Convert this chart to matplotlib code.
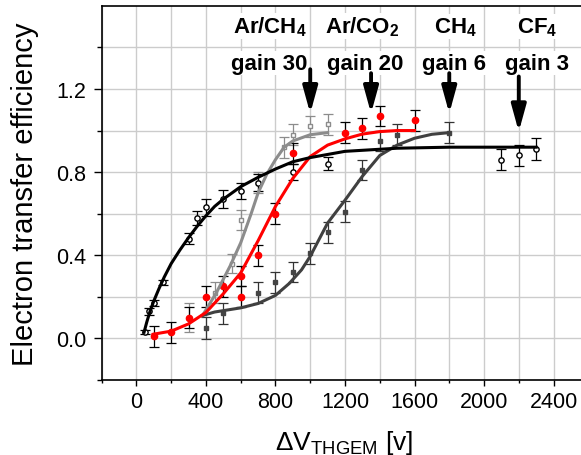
import matplotlib
matplotlib.use('Agg')
import matplotlib.pyplot as plt

plt.rcParams['font.family'] = ['Liberation Sans', 'DejaVu Sans']
plt.rcParams['mathtext.default'] = 'regular'

# CF4 (black, open circles)
cf4_x = [50, 75, 100, 150, 300, 350, 400, 500, 600, 700, 900, 1100, 2100, 2200, 2300]
cf4_y = [0.03, 0.13, 0.17, 0.27, 0.48, 0.58, 0.63, 0.67, 0.71, 0.75, 0.80, 0.84, 0.86, 0.88, 0.91]
cf4_err = [0.01, 0.016, 0.015, 0.012, 0.026, 0.035, 0.04, 0.042, 0.04, 0.04, 0.04, 0.032, 0.05, 0.05, 0.054]
cf4_fit_x = [44, 60, 80, 100, 130, 160, 200, 250, 300, 350, 400, 450, 500, 600, 700, 800, 900,
             1000, 1200, 1500, 1800, 2000, 2300]
cf4_fit_y = [0.03, 0.08, 0.135, 0.18, 0.24, 0.295, 0.36, 0.425, 0.485, 0.54, 0.59, 0.635, 0.67,
             0.73, 0.775, 0.815, 0.85, 0.87, 0.90, 0.915, 0.92, 0.92, 0.92]

# Ar/CH4 (light gray, open squares)
arch4_x = [300, 450, 550, 600, 700, 850, 900, 1000, 1100]
arch4_y = [0.10, 0.22, 0.36, 0.57, 0.75, 0.92, 0.98, 1.02, 1.03]
arch4_err = [0.07, 0.05, 0.045, 0.05, 0.05, 0.05, 0.05, 0.05, 0.05]
arch4_fit_x = [380, 460, 540, 600, 660, 700, 750, 800, 850, 900, 1000, 1100]
arch4_fit_y = [0.11, 0.22, 0.35, 0.46, 0.60, 0.70, 0.79, 0.86, 0.92, 0.95, 0.98, 0.99]

# Ar/CO2 (red, filled circles)
arco2_x = [100, 200, 300, 400, 500, 600, 600, 700, 800, 900, 1200, 1300, 1400, 1600]
arco2_y = [0.01, 0.03, 0.10, 0.20, 0.25, 0.30, 0.20, 0.40, 0.60, 0.89, 0.99, 1.01, 1.07, 1.05]
arco2_err = [0.05, 0.05, 0.05, 0.05, 0.05, 0.05, 0.05, 0.05, 0.05, 0.05, 0.05, 0.05, 0.05, 0.05]
arco2_fit_x = [96, 200, 300, 400, 500, 600, 700, 800, 900, 1000, 1100, 1200, 1300, 1400, 1500, 1600]
arco2_fit_y = [0.02, 0.035, 0.07, 0.125, 0.215, 0.315, 0.47, 0.635, 0.77, 0.875, 0.93, 0.96, 0.983, 0.995, 1.0, 1.0]

# CH4 (dark gray, filled squares)
ch4_x = [400, 500, 700, 800, 900, 1000, 1100, 1200, 1300, 1400, 1500, 1800]
ch4_y = [0.05, 0.12, 0.22, 0.27, 0.32, 0.41, 0.51, 0.61, 0.81, 0.95, 0.98, 0.99]
ch4_err = [0.053, 0.05, 0.05, 0.05, 0.05, 0.05, 0.05, 0.05, 0.05, 0.05, 0.05, 0.05]
ch4_fit_x = [380, 450, 600, 700, 800, 880, 950, 1000, 1100, 1200, 1300, 1400, 1500, 1600, 1700, 1800]
ch4_fit_y = [0.11, 0.127, 0.147, 0.168, 0.207, 0.265, 0.33, 0.395, 0.555, 0.665, 0.78, 0.88, 0.93, 0.963, 0.982, 0.99]

# annotations
gas_labels = ['Ar/CH$_4$', 'Ar/CO$_2$', 'CH$_4$', 'CF$_4$']
gas_label_x = [770, 1298, 1833, 2305]
gain_labels = ['gain 30', 'gain 20', 'gain 6', 'gain 3']
gain_label_x = [762, 1318, 1828, 2305]
arrow_x = [1000, 1350, 1800, 2200]
arrow_top = [1.295, 1.276, 1.276, 1.26]
arrow_tip = [1.082, 1.082, 1.082, 0.994]

fig = plt.figure(figsize=(5.81, 4.56), dpi=100)
ax = fig.add_axes([0.175, 0.1645, 0.825, 0.8205])

ebkw = dict(linestyle='none', elinewidth=0.9, capsize=3.5, capthick=0.9)
ax.errorbar(arch4_x, arch4_y, yerr=arch4_err, marker='s', ms=3.5, mfc='white',
            mec='#8c8c8c', color='#8c8c8c', ecolor='#8c8c8c', zorder=3, **ebkw)
ax.errorbar(ch4_x, ch4_y, yerr=ch4_err, marker='s', ms=3.5, mfc='#444444',
            mec='#444444', color='#444444', ecolor='#333333', zorder=3, **ebkw)
ax.errorbar(arco2_x, arco2_y, yerr=arco2_err, marker='o', ms=4.5, mfc='red',
            mec='red', color='red', ecolor='black', zorder=3, **ebkw)
ax.errorbar(cf4_x, cf4_y, yerr=cf4_err, marker='o', ms=3.8, mfc='white',
            mec='black', color='black', ecolor='black', zorder=3, **ebkw)

ax.plot(arch4_fit_x, arch4_fit_y, color='#8c8c8c', lw=2.2, zorder=4)
ax.plot(ch4_fit_x, ch4_fit_y, color='#404040', lw=2.2, zorder=4)
ax.plot(arco2_fit_x, arco2_fit_y, color='red', lw=2.2, zorder=4)
ax.plot(cf4_fit_x, cf4_fit_y, color='black', lw=2.2, zorder=4)

for lab, x in zip(gas_labels, gas_label_x):
    ax.text(x, 1.472, lab, ha='center', va='baseline', fontsize=16, fontweight='bold',
            bbox=dict(facecolor='white', edgecolor='none', pad=1), zorder=5)
for lab, x in zip(gain_labels, gain_label_x):
    ax.text(x, 1.298, lab, ha='center', va='baseline', fontsize=16, fontweight='bold',
            bbox=dict(facecolor='white', edgecolor='none', pad=1), zorder=5)
for x, top, tip in zip(arrow_x, arrow_top, arrow_tip):
    ax.annotate('', xy=(x, tip), xytext=(x, top),
                arrowprops=dict(arrowstyle='-|>,head_length=0.8,head_width=0.22',
                                mutation_scale=20, lw=2.8, color='black',
                                shrinkA=0, shrinkB=0), zorder=6)

ax.set_xlim(-200, 2558)
ax.set_ylim(-0.2, 1.6)
ax.set_xticks([0, 400, 800, 1200, 1600, 2000, 2400])
ax.set_xticks(range(-200, 2600, 200), minor=True)
ax.set_yticks([0.0, 0.4, 0.8, 1.2])
ax.set_yticks([-0.2, 0.2, 0.6, 1.0, 1.4], minor=True)
ax.set_yticklabels(['0.0', '0.4', '0.8', '1.2'])
ax.grid(True, which='both', color='#cccccc', lw=1.0)
ax.set_axisbelow(True)

ax.spines['right'].set_visible(False)
for s in ['left', 'bottom', 'top']:
    ax.spines[s].set_linewidth(1.2)
ax.tick_params(axis='x', which='major', direction='out', length=4, width=1, labelsize=15.5, pad=4)
ax.tick_params(axis='x', which='minor', direction='out', length=2.5, width=1)
ax.tick_params(axis='y', which='major', direction='out', length=6, width=1, labelsize=15.5, pad=5)
ax.tick_params(axis='y', which='minor', direction='out', length=3.6, width=1)

ax.set_ylabel('Electron transfer efficiency', fontsize=21)
ax.yaxis.set_label_coords(-0.131, 0.5)
ax.set_xlabel(r'$\Delta$V$_{THGEM}$ [v]', fontsize=19)
ax.xaxis.set_label_coords(0.5055, -0.128)

fig.savefig('out.png', dpi=100)
